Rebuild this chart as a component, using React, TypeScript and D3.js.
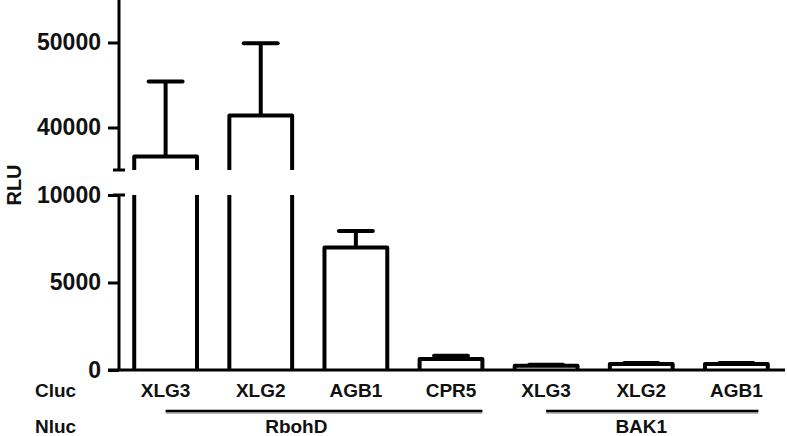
import { useEffect, useRef } from 'react';
import * as d3 from 'd3';

// Cluc partner for each bar, mean RLU and upper error
const clucLabels = ['XLG3', 'XLG2', 'AGB1', 'CPR5', 'XLG3', 'XLG2', 'AGB1'];
const meanRLU = [36600, 41400, 7000, 630, 250, 350, 350];
const errorRLU = [8800, 8500, 950, 180, 50, 50, 50];

// Nluc groups (index of first / last bar under each bracket)
const nlucLabels = ['RbohD', 'BAK1'];
const nlucFirst = [0, 4];
const nlucLast = [3, 6];

const lowerTicks = [0, 5000, 10000];
const upperTicks = [40000, 50000];

function App() {
	const ref = useRef<SVGSVGElement>(null);

	useEffect(() => {
		const width = 787;
		const height = 436;
		const axisX = 119;
		const font = '"Liberation Sans", Arial, sans-serif';

		const svg = d3.select(ref.current);
		svg.selectAll('*').remove();

		const x = d3
			.scaleBand<number>()
			.domain(d3.range(clucLabels.length))
			.range([axisX, 783])
			.paddingInner(0.34)
			.paddingOuter(0.16);
		const bw = x.bandwidth();

		const yLow = d3.scaleLinear().domain([0, 10000]).range([370, 195]);
		const yHigh = d3.scaleLinear().domain([35000, 55000]).range([170, 0]);

		// bars, drawn in two segments of the broken axis
		const segments = [
			{ y: yLow, lo: 0, hi: 10000 },
			{ y: yHigh, lo: 35000, hi: 55000 },
		];
		segments.forEach((seg) => {
			const g = svg.append('g');
			meanRLU.forEach((v, i) => {
				if (v <= seg.lo) return;
				const top = Math.min(v, seg.hi);
				const x0 = x(i)!;
				const x1 = x0 + bw;
				const yb = seg.y(seg.lo);
				const yt = seg.y(top);
				g.append('rect')
					.attr('x', x0)
					.attr('y', yt)
					.attr('width', bw)
					.attr('height', yb - yt)
					.attr('fill', '#fff');
				const p = d3.path();
				p.moveTo(x0, yb);
				p.lineTo(x0, yt);
				if (v <= seg.hi) p.lineTo(x1, yt);
				else p.moveTo(x1, yt);
				p.lineTo(x1, yb);
				g.append('path')
					.attr('d', p.toString())
					.attr('fill', 'none')
					.attr('stroke', '#000')
					.attr('stroke-width', 4)
					.attr('stroke-linejoin', 'round');
				// error bar
				const e = v + errorRLU[i];
				if (v >= seg.lo && v <= seg.hi) {
					const cx = x0 + bw / 2;
					const ye = seg.y(Math.min(e, seg.hi));
					g.append('line')
						.attr('x1', cx).attr('x2', cx)
						.attr('y1', yt).attr('y2', ye)
						.attr('stroke', '#000').attr('stroke-width', 4);
					g.append('line')
						.attr('x1', cx - bw * 0.27).attr('x2', cx + bw * 0.27)
						.attr('y1', ye).attr('y2', ye)
						.attr('stroke', '#000').attr('stroke-width', 4)
						.attr('stroke-linecap', 'round');
				}
			});
		});

		// y axis segments
		const styleAxis = (g: d3.Selection<SVGGElement, unknown, null, undefined>) => {
			g.select('.domain').remove();
			g.selectAll('.tick line').attr('stroke', '#000').attr('stroke-width', 3);
			g.selectAll('.tick text')
				.attr('x', -18)
				.attr('fill', '#111')
				.style('font-family', font)
				.style('font-size', '23px')
				.style('font-weight', 'bold');
		};
		svg.append('g')
			.attr('transform', `translate(${axisX},0)`)
			.call(d3.axisLeft(yLow).tickValues(lowerTicks).tickSize(11).tickFormat(d3.format('d')))
			.call(styleAxis);
		svg.append('g')
			.attr('transform', `translate(${axisX},0)`)
			.call(d3.axisLeft(yHigh).tickValues(upperTicks).tickSize(11).tickFormat(d3.format('d')))
			.call(styleAxis);

		svg.append('line')
			.attr('x1', axisX).attr('x2', axisX)
			.attr('y1', yLow(0)).attr('y2', yLow(10000))
			.attr('stroke', '#000').attr('stroke-width', 3);
		svg.append('line')
			.attr('x1', axisX).attr('x2', axisX)
			.attr('y1', yHigh(35000)).attr('y2', yHigh(55000))
			.attr('stroke', '#000').attr('stroke-width', 3);
		// break marks
		[yLow(10000), yHigh(35000)].forEach((yy) => {
			svg.append('line')
				.attr('x1', axisX - 6).attr('x2', axisX + 6)
				.attr('y1', yy).attr('y2', yy)
				.attr('stroke', '#000').attr('stroke-width', 3);
		});

		// x axis line
		svg.append('line')
			.attr('x1', axisX - 11).attr('x2', 785)
			.attr('y1', yLow(0)).attr('y2', yLow(0))
			.attr('stroke', '#000').attr('stroke-width', 3);

		const textStyle = (t: d3.Selection<SVGTextElement, unknown, null, undefined>, size: number) =>
			t.attr('fill', '#111')
				.style('font-family', font)
				.style('font-size', `${size}px`)
				.style('font-weight', 'bold');

		svg.append('text')
			.attr('transform', `translate(21,185) rotate(-90)`)
			.attr('text-anchor', 'middle')
			.text('RLU')
			.call(textStyle, 20);

		svg.append('text').attr('x', 35).attr('y', 397).text('Cluc').call(textStyle, 19);
		svg.append('text').attr('x', 35).attr('y', 433).text('Nluc').call(textStyle, 19);

		clucLabels.forEach((c, i) => {
			svg.append('text')
				.attr('x', x(i)! + bw / 2)
				.attr('y', 397)
				.attr('text-anchor', 'middle')
				.text(c)
				.call(textStyle, 19);
		});

		nlucLabels.forEach((n, k) => {
			const a = nlucFirst[k];
			const b = nlucLast[k];
			const x0 = x(a)! + bw / 2;
			const x1 = k === 0 ? x(b)! + bw : x(b)! + bw / 2 + 22;
			svg.append('line')
				.attr('x1', x0).attr('x2', x1)
				.attr('y1', 413).attr('y2', 413)
				.attr('stroke', '#bbb').attr('stroke-width', 2);
			svg.append('line')
				.attr('x1', x0).attr('x2', x1)
				.attr('y1', 411).attr('y2', 411)
				.attr('stroke', '#000').attr('stroke-width', 2.5);
			const mid = (x(a)! + x(b)! + bw) / 2;
			svg.append('text')
				.attr('x', k === 0 ? mid - 12 : mid)
				.attr('y', 433)
				.attr('text-anchor', 'middle')
				.text(n)
				.call(textStyle, 19);
		});

		svg.attr('width', width).attr('height', height);
	}, []);

	return (
		<svg
			ref={ref}
			width={787}
			height={436}
			style={{ position: 'absolute', left: 0, top: 0, background: '#fff' }}
		/>
	);
}

export default App;
